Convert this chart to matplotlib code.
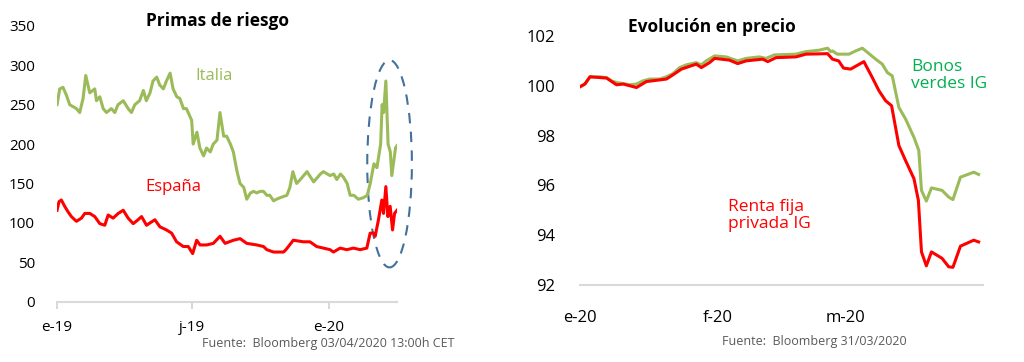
import numpy as np
import pandas as pd
import matplotlib
matplotlib.use("Agg")
from matplotlib import pyplot as plt
from matplotlib.patches import Ellipse

plt.rcParams['font.family'] = ['Open Sans', 'DejaVu Sans']

# ---- Primas de riesgo (dias desde 01/01/2019) ----
dias_italia = [0, 3.6, 8, 12.6, 17, 26, 30.5, 35, 38.6, 44, 50.7, 53, 57.5, 62, 66.5, 73, 77.7, 82,
               89, 95.6, 100, 104.6, 111, 116, 120, 125, 129, 134, 138, 143, 147, 152, 156, 161,
               165, 170, 174, 181, 183, 188, 192, 197, 201, 206, 210, 215, 219, 224, 228, 233,
               237, 242, 246, 251, 255, 260, 264, 268.5, 273, 277.5, 282, 286, 291, 295, 300,
               309, 313, 317, 322, 327, 336, 345, 354, 358, 367, 372, 376, 381, 385, 390, 394,
               399, 405, 412, 417, 421, 426, 430, 435, 437, 439, 442, 445, 448, 450, 455, 457]
italia = [250, 270, 272, 262, 250, 245, 240, 258, 287, 265, 270, 255, 260, 245, 240, 245, 240, 250,
          255, 245, 240, 250, 255, 268, 255, 265, 280, 285, 275, 270, 280, 290, 270, 260,
          258, 245, 245, 230, 200, 215, 195, 185, 195, 190, 200, 205, 240, 210, 210, 200,
          190, 165, 150, 145, 130, 138, 140, 138, 140, 140, 135, 135, 128, 130, 132,
          135, 145, 165, 150, 155, 165, 152, 162, 165, 160, 162, 155, 162, 158, 150, 135,
          135, 130, 132, 135, 150, 175, 170, 200, 250, 240, 280, 200, 190, 160, 195, 198]

dias_espana = [0, 2.7, 5.8, 10.3, 14.8, 19.3, 26, 32.8, 37.3, 44, 50.7, 57.5, 64.2, 68.7, 75.4,
               82.2, 89, 95.6, 102.4, 109, 113.6, 120.3, 131.5, 138.3, 147.2, 154, 160.7, 169.7,
               176.4, 182.3, 187.7, 192.2, 201.2, 210.1, 219.1, 225.9, 237.1, 246.1, 255,
               268.5, 277.5, 282, 291, 300, 304.5, 307.7, 317.6, 331, 340, 349, 358, 367, 371.6,
               380.5, 389.5, 398.5, 407.4, 416.4, 420.9, 425.4, 427.6, 432.1, 436.6, 438.9,
               442, 444.7, 447.8, 451, 453.7, 457]
espana = [116, 127, 129, 121, 114, 108, 102, 106, 112, 112, 108, 99, 97, 110, 106,
          112, 116, 106, 99, 104, 108, 97, 104, 95, 91, 87, 76, 70,
          70, 61, 78, 72, 72, 74, 83, 74, 78, 80, 74,
          72, 70, 66, 63, 63, 63, 66, 78, 76, 76, 70, 68, 66, 63,
          68, 66, 68, 66, 68, 87, 87, 83, 104, 129, 112,
          146, 108, 121, 91, 112, 116]

# ---- Evolucion en precio (dias desde 01/01/2020) ----
dias_verdes = [0, 1.1, 2.25, 4.5, 6, 7.1, 8.25, 9.75, 11.25, 12.75, 14.25, 15.75, 18, 19.5, 21,
               22.5, 24, 26.25, 27.4, 28.5, 30.4, 33, 35.6, 37.5, 40.5, 42, 43.9, 48.75, 51, 54,
               55.9, 56.6, 57, 58.1, 60.75, 62.25, 63.75, 65.25, 66.75, 68.25, 69.4, 70.5, 72,
               73.5, 75.4, 76.5, 77.1, 78.2, 79.35, 81.75, 83.25, 84.2, 85.9, 88.9, 90]
verdes = [99.96, 100.07, 100.36, 100.36, 100.33, 100.2, 100.13, 100.09, 100.04, 100.07, 100.2,
          100.27, 100.27, 100.36, 100.49, 100.73, 100.84, 100.93, 100.84, 101.0, 101.2, 101.16,
          101.0, 101.1, 101.16, 101.1, 101.24, 101.27, 101.37, 101.43, 101.51, 101.37, 101.4,
          101.27, 101.27, 101.4, 101.51, 101.29, 101.07, 100.87, 100.53, 100.4, 99.13, 98.67,
          97.93, 97.4, 95.8, 95.37, 95.9, 95.8, 95.53, 95.43, 96.33, 96.53, 96.44]

dias_privada = [0, 1.1, 2.25, 6, 8.25, 9.75, 12.75, 15, 19.5, 21, 22.9, 26.25, 27.4, 29.25, 30.4,
                33.75, 35.6, 37.5, 41.25, 42.4, 44.25, 48.75, 51, 55.9, 57, 58.4, 59.5, 61.1,
                64.1, 66, 67.5, 69, 70.35, 72, 73.5, 75.4, 76.4, 77.1, 78.2, 79.35, 81.75, 83.25,
                84.2, 85.9, 88.9, 90]
privada = [99.96, 100.07, 100.36, 100.31, 100.04, 100.07, 99.93, 100.17, 100.27, 100.44, 100.67,
           100.87, 100.73, 100.93, 101.1, 101.03, 100.89, 101.0, 101.07, 100.97, 101.13, 101.16,
           101.27, 101.29, 101.07, 101.0, 100.71, 100.67, 100.97, 100.33, 99.8, 99.4, 99.2,
           97.6, 97.0, 96.27, 95.4, 93.33, 92.77, 93.33, 93.07, 92.73, 92.71, 93.56, 93.8, 93.73]

ticks_izq = [0, 181, 365]
etiquetas_izq = ['e-19', 'j-19', 'e-20']
ticks_der = [0, 31, 60]
etiquetas_der = ['e-20', 'f-20', 'm-20']

VERDE = '#9BBB59'
ROJO = '#FF0000'
GRIS = '#D9D9D9'

fig = plt.figure(figsize=(10.24, 3.62), dpi=100)

# ---------------- izquierda ----------------
ax1 = fig.add_axes([0.0557, 0.1666, 0.332, 0.762])
ax1.plot(dias_italia, italia, color=VERDE, lw=2.2)
ax1.plot(dias_espana, espana, color=ROJO, lw=2.2)
ax1.add_patch(Ellipse((447, 175), 60, 263, fill=False, ls=(0, (5, 4)), lw=1.5, ec='#41719C',
                      clip_on=False))
ax1.set_xlim(0, 457)
ax1.set_ylim(0, 350)
ax1.set_yticks(range(0, 351, 50))
ax1.set_xticks(ticks_izq)
ax1.set_xticklabels(etiquetas_izq)
for s in ['top', 'right', 'left']:
    ax1.spines[s].set_visible(False)
ax1.spines['bottom'].set_color(GRIS)
ax1.spines['bottom'].set_linewidth(1.5)
ax1.tick_params(axis='y', length=0, labelsize=11, pad=16)
ax1.tick_params(axis='x', length=5, color=GRIS, width=1.5, labelsize=11, pad=8)
ax1.text(217 / 1024, 1 - 21 / 362, 'Primas de riesgo', transform=fig.transFigure,
         fontsize=12.5, fontweight='bold', ha='center', va='center')
ax1.text(211, 286, 'Italia', color=VERDE, fontsize=12, ha='center', va='center')
ax1.text(156, 145, 'España', color=ROJO, fontsize=12, ha='center', va='center')
fig.text(454 / 1024, 1 - 344 / 362, 'Fuente:  Bloomberg 03/04/2020 13:00h CET',
         color='#595959', fontsize=9, ha='right', va='center')

# ---------------- derecha ----------------
ax2 = fig.add_axes([0.5664, 0.2127, 0.3936, 0.6879])
ax2.plot(dias_verdes, verdes, color=VERDE, lw=2.2)
ax2.plot(dias_privada, privada, color=ROJO, lw=2.2)
ax2.set_xlim(0, 91)
ax2.set_ylim(92, 102)
ax2.set_yticks(range(92, 103, 2))
ax2.set_xticks(ticks_der)
ax2.set_xticklabels(etiquetas_der)
for s in ['top', 'right', 'left']:
    ax2.spines[s].set_visible(False)
ax2.spines['bottom'].set_color(GRIS)
ax2.spines['bottom'].set_linewidth(1.5)
ax2.tick_params(axis='y', length=0, labelsize=12, pad=18)
ax2.tick_params(axis='x', length=0, labelsize=12, pad=18)
ax2.text(712 / 1024, 1 - 27 / 362, 'Evolución en precio', transform=fig.transFigure,
         fontsize=12.5, fontweight='bold', ha='center', va='center')
ax2.text(74.8, 100.4, 'Bonos\nverdes IG', color='#00B050', fontsize=12.5, ha='left',
         va='center', linespacing=1.1)
ax2.text(33.5, 94.8, 'Renta fija\nprivada IG', color=ROJO, fontsize=12.5, ha='left',
         va='center', linespacing=1.1)
fig.text(907 / 1024, 1 - 342 / 362, 'Fuente:  Bloomberg 31/03/2020',
         color='#595959', fontsize=9, ha='right', va='center')

fig.savefig('out.png', dpi=100, facecolor='white')
